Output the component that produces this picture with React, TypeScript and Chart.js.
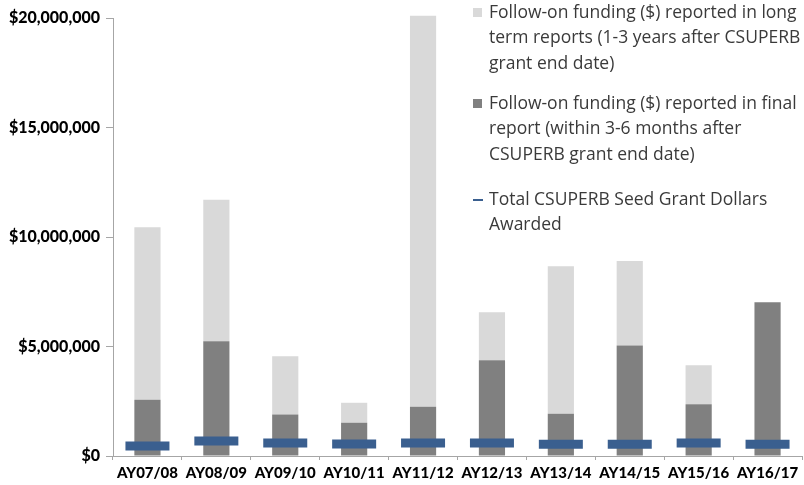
import React, { useEffect, useRef } from "react";
import { Chart, registerables } from "chart.js";

Chart.register(...registerables);

const categories = ["AY07/08", "AY08/09", "AY09/10", "AY10/11", "AY11/12", "AY12/13", "AY13/14", "AY14/15", "AY15/16", "AY16/17"];
const finalReport = [2570000, 5240000, 1900000, 1520000, 2250000, 4370000, 1930000, 5050000, 2360000, 7020000];
const longTerm = [7880000, 6460000, 2650000, 910000, 17850000, 2190000, 6740000, 3850000, 1780000, 0];
const seedGrant = [460000, 680000, 590000, 550000, 590000, 590000, 540000, 540000, 590000, 540000];
const yTicks = [0, 5000000, 10000000, 15000000, 20000000];

const legendItems = [
  { lines: ["Follow-on funding ($) reported in long", "term reports (1-3 years after CSUPERB", "grant end date)"], color: "#D9D9D9", kind: "box" },
  { lines: ["Follow-on funding ($) reported in final", "report (within 3-6 months after", "CSUPERB grant end date)"], color: "#808080", kind: "box" },
  { lines: ["Total CSUPERB Seed Grant Dollars", "Awarded"], color: "#3A5F8F", kind: "dash" },
];

const LIGHT = "#D9D9D9";
const DARK = "#808080";
const BLUE = "#3A5F8F";

const legendPlugin = {
  id: "customLegend",
  afterDraw(chart: any) {
    const ctx = chart.ctx;
    ctx.save();
    const starts = [13, 104, 200];
    const lh = 25.5;
    ctx.font = "17.5px 'Open Sans'";
    ctx.textBaseline = "middle";
    ctx.textAlign = "left";
    legendItems.forEach((item, i) => {
      const y0 = starts[i];
      ctx.fillStyle = item.color;
      if (item.kind === "box") {
        ctx.fillRect(473, y0 - 5, 9, 9);
      } else {
        ctx.fillRect(473, y0 - 1, 10, 2);
      }
      ctx.fillStyle = "#3A3A3A";
      item.lines.forEach((t, j) => {
        ctx.fillText(t, 489, y0 + j * lh);
      });
    });
    ctx.restore();
  },
};

export default function App() {
  const ref = useRef<HTMLCanvasElement>(null);
  useEffect(() => {
    document.body.style.margin = "0";
    const chart = new Chart(ref.current!, {
      type: "bar",
      data: {
        labels: categories,
        datasets: [
          {
            label: "Follow-on funding ($) reported in final report",
            data: finalReport,
            backgroundColor: DARK,
            stack: "s",
            order: 1,
            barPercentage: 0.38,
            categoryPercentage: 1,
          },
          {
            label: "Follow-on funding ($) reported in long term reports",
            data: longTerm,
            backgroundColor: LIGHT,
            stack: "s",
            order: 1,
            barPercentage: 0.38,
            categoryPercentage: 1,
            clip: false as any,
          },
          {
            type: "line" as any,
            label: "Total CSUPERB Seed Grant Dollars Awarded",
            data: seedGrant,
            showLine: false,
            stack: "line",
            order: 0,
            pointStyle: "line",
            pointRadius: 22,
            pointHoverRadius: 22,
            pointBorderWidth: 9,
            pointHoverBorderWidth: 9,
            borderColor: BLUE,
            backgroundColor: BLUE,
          } as any,
        ],
      },
      options: {
        animation: false,
        responsive: false,
        layout: { autoPadding: false, padding: { top: 18, right: 2, left: 0, bottom: 0 } },
        plugins: { legend: { display: false }, tooltip: { enabled: false } },
        scales: {
          x: {
            stacked: true,
            grid: { display: true, drawOnChartArea: false, drawTicks: true, tickLength: 4, color: "#A6A6A6", offset: true },
            border: { display: true, color: "#A6A6A6" },
            ticks: { color: "#000", font: { family: "Lato", weight: "900", size: 15 }, padding: 4, maxRotation: 0, autoSkip: false },
            afterFit(scale: any) {
              scale.height = 29;
              scale.paddingLeft = 0;
              scale.paddingRight = 0;
            },
          },
          y: {
            stacked: true,
            min: 0,
            max: 20000000,
            afterBuildTicks(scale: any) { scale.ticks = yTicks.map((v) => ({ value: v })); },
            grid: { display: true, drawOnChartArea: false, drawTicks: true, tickLength: 7, color: "#A6A6A6" },
            border: { display: true, color: "#A6A6A6" },
            ticks: {
              color: "#000",
              font: { family: "Lato", weight: "900", size: 16 },
              padding: 6,
              callback: (v: any) => "$" + Number(v).toLocaleString("en-US"),
            },
            afterFit(scale: any) {
              scale.width = 113;
              scale.paddingTop = 0;
              scale.paddingBottom = 0;
            },
          },
        },
      },
      plugins: [legendPlugin],
    });
    return () => chart.destroy();
  }, []);
  return <canvas ref={ref} width={804} height={485} style={{ display: "block" }} />;
}
